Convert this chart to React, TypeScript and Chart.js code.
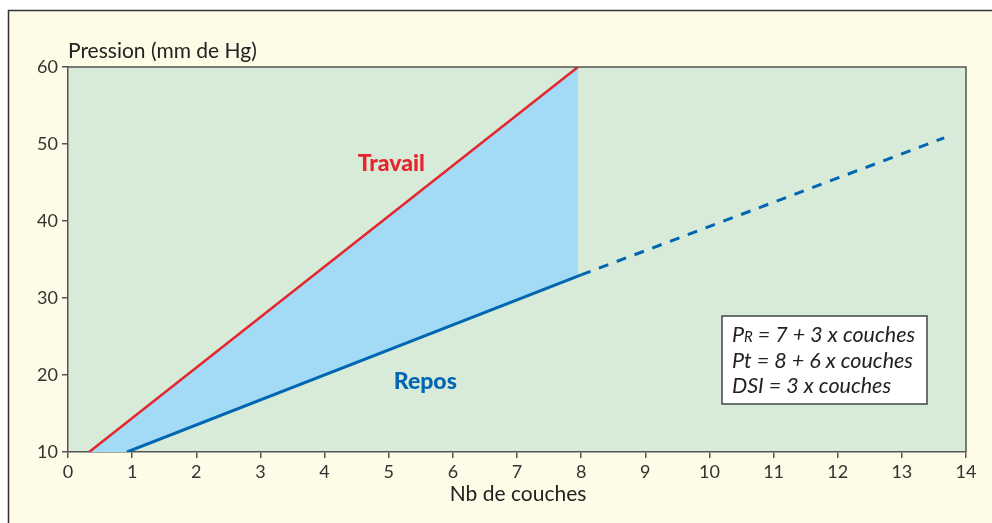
import React, { useEffect, useRef } from "react";
import { Chart, registerables } from "chart.js";

Chart.register(...registerables);

// ---- data ----
const xTicksMin = 0;
const xTicksMax = 14;
const yTicksMin = 10;
const yTicksMax = 60;

const travailX = [0.33, 7.95];
const travailY = [10, 60];

const reposX = [0.92, 8.0];
const reposY = [10, 33];

const reposExtX = [8.0, 13.66];
const reposExtY = [33, 50.8];

// shaded zone between Travail and Repos (vertices)
const zoneX = [0.33, 7.95, 7.95, 0.92];
const zoneY = [10, 60, 32.9, 10];

const yTitle = "Pression (mm de Hg)";
const xTitle = "Nb de couches";
const labelTravail = { text: "Travail", x: 5.04, y: 47.5 };
const labelRepos = { text: "Repos", x: 5.57, y: 19.2 };
const formulaLines = [
  { main: "P", sub: "R", rest: " = 7 + 3 x couches" },
  { main: "Pt", sub: "", rest: " = 8 + 6 x couches" },
  { main: "DSI", sub: "", rest: " = 3 x couches" },
];

const FONT = "Lato, 'Open Sans', sans-serif";
const RED = "#E5262D";
const BLUE = "#0066B2";
const FILL = "#A3DAF6";
const GREEN = "#D8EAD8";
const CREAM = "#FEFBE6";
const AXIS = "#555555";

const pts = (xs: number[], ys: number[]) => xs.map((x, i) => ({ x, y: ys[i] }));

const decorPlugin = {
  id: "decor",
  beforeDraw(chart: any) {
    const { ctx, chartArea: a, width, height } = chart;
    ctx.save();
    ctx.fillStyle = "#ffffff";
    ctx.fillRect(0, 0, width, height);
    ctx.fillStyle = CREAM;
    ctx.fillRect(8, 10, width - 8, height - 10);
    ctx.strokeStyle = "#333333";
    ctx.lineWidth = 1.5;
    ctx.beginPath();
    ctx.moveTo(8.5, height);
    ctx.lineTo(8.5, 10.5);
    ctx.lineTo(width, 10.5);
    ctx.stroke();
    ctx.fillStyle = GREEN;
    ctx.fillRect(a.left, a.top, a.right - a.left, a.bottom - a.top);
    ctx.restore();
  },
  afterDatasetsDraw(chart: any) {
    const { ctx, chartArea: a, scales } = chart;
    const xs = scales.x;
    const ys = scales.y;
    ctx.save();
    // plot frame top/right
    ctx.strokeStyle = AXIS;
    ctx.lineWidth = 1.5;
    ctx.beginPath();
    ctx.moveTo(a.left, a.top);
    ctx.lineTo(a.right, a.top);
    ctx.lineTo(a.right, a.bottom);
    ctx.stroke();

    // axis titles
    ctx.fillStyle = "#222222";
    ctx.font = `21px ${FONT}`;
    ctx.textAlign = "left";
    ctx.textBaseline = "alphabetic";
    ctx.fillText(yTitle, a.left, a.top - 9);
    ctx.textAlign = "center";
    ctx.fillText(xTitle, (a.left + a.right) / 2 + 1, 501);

    // series labels
    ctx.font = `900 23px ${FONT}`;
    ctx.textBaseline = "middle";
    ctx.fillStyle = RED;
    ctx.fillText(labelTravail.text, xs.getPixelForValue(labelTravail.x), ys.getPixelForValue(labelTravail.y));
    ctx.fillStyle = BLUE;
    ctx.fillText(labelRepos.text, xs.getPixelForValue(labelRepos.x), ys.getPixelForValue(labelRepos.y));

    // formula box
    const bx = a.right - 244;
    const by = a.top + 249;
    const bw = 205;
    const bh = 88;
    ctx.fillStyle = "#ffffff";
    ctx.fillRect(bx, by, bw, bh);
    ctx.strokeStyle = "#444444";
    ctx.lineWidth = 1.5;
    ctx.strokeRect(bx, by, bw, bh);
    ctx.fillStyle = "#222222";
    ctx.textAlign = "left";
    ctx.textBaseline = "alphabetic";
    formulaLines.forEach((ln, i) => {
      let x = bx + 10;
      const y = by + 26 + i * 25.5;
      ctx.font = `italic 21.5px ${FONT}`;
      ctx.fillText(ln.main, x, y);
      x += ctx.measureText(ln.main).width;
      if (ln.sub) {
        ctx.font = `italic 15px ${FONT}`;
        ctx.fillText(ln.sub, x, y);
        x += ctx.measureText(ln.sub).width;
      }
      ctx.font = `italic 21.5px ${FONT}`;
      ctx.fillText(ln.rest, x, y);
    });
    ctx.restore();
  },
};

export default function App() {
  const ref = useRef<HTMLCanvasElement | null>(null);
  useEffect(() => {
    if (!ref.current) return;
    const chart = new Chart(ref.current, {
      type: "line",
      data: {
        datasets: [
          {
            data: pts(zoneX, zoneY),
            borderWidth: 0,
            borderColor: FILL,
            backgroundColor: FILL,
            fill: "shape",
            pointRadius: 0,
            order: 10,
          } as any,
          {
            data: pts(travailX, travailY),
            borderColor: RED,
            borderWidth: 2.5,
            pointRadius: 0,
            fill: false,
            order: 1,
          },
          {
            data: pts(reposX, reposY),
            borderColor: BLUE,
            borderWidth: 3,
            pointRadius: 0,
            fill: false,
            order: 1,
          },
          {
            data: pts(reposExtX, reposExtY),
            borderColor: BLUE,
            borderWidth: 3,
            borderDash: [10, 9],
            pointRadius: 0,
            fill: false,
            order: 1,
          },
        ],
      },
      options: {
        responsive: false,
        animation: false,
        layout: { padding: { left: 0, top: 67, right: 26, bottom: 0 } },
        plugins: { legend: { display: false }, tooltip: { enabled: false } },
        scales: {
          x: {
            type: "linear",
            min: xTicksMin,
            max: xTicksMax,
            ticks: { stepSize: 1, color: "#333333", font: { family: FONT, size: 18 }, padding: 3 },
            grid: { drawOnChartArea: false, tickLength: 6, color: AXIS, lineWidth: 1.5 },
            border: { color: AXIS, width: 1.5 },
            afterFit: (s: any) => { s.height = 71; },
          },
          y: {
            type: "linear",
            min: yTicksMin,
            max: yTicksMax,
            ticks: { stepSize: 10, color: "#333333", font: { family: FONT, size: 18 }, padding: 4 },
            grid: { drawOnChartArea: false, tickLength: 6, color: AXIS, lineWidth: 1.5 },
            border: { color: AXIS, width: 1.5 },
            afterFit: (s: any) => { s.width = 68; },
          },
        },
      },
      plugins: [decorPlugin],
    });
    return () => chart.destroy();
  }, []);
  return (
    <canvas
      ref={ref}
      width={992}
      height={523}
      style={{ position: "absolute", left: 0, top: 0, display: "block" }}
    />
  );
}
